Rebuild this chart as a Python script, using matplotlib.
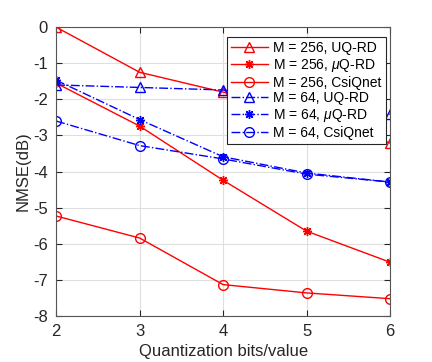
import matplotlib
matplotlib.use("Agg")
import matplotlib.pyplot as plt

bits = [2, 3, 4, 5, 6]
m256_uq = [0.0, -1.25, -1.8, -2.3, -3.21]
m256_mu = [-1.55, -2.74, -4.24, -5.65, -6.51]
m256_csi = [-5.23, -5.84, -7.13, -7.36, -7.52]
m64_uq = [-1.6, -1.67, -1.74, -2.0, -2.41]
m64_mu = [-1.47, -2.56, -3.59, -4.04, -4.29]
m64_csi = [-2.6, -3.28, -3.65, -4.07, -4.29]

labels = ["M = 256, UQ-RD", r"M = 256, $\mu$Q-RD", "M = 256, CsiQnet",
          "M = 64, UQ-RD", r"M = 64, $\mu$Q-RD", "M = 64, CsiQnet"]

plt.rcParams['font.family'] = ['Liberation Sans', 'DejaVu Sans']
plt.rcParams['mathtext.fontset'] = 'custom'
plt.rcParams['mathtext.it'] = 'Liberation Sans:italic'
plt.rcParams['mathtext.rm'] = 'Liberation Sans'
plt.rcParams['axes.unicode_minus'] = False

fig = plt.figure(figsize=(4.32, 3.62), dpi=100)
ax = fig.add_axes([0.13, 0.127, 0.773, 0.798])

dark = '#262626'
red = '#ff0000'
blue = '#0000ff'
ms = 7
star = (8, 2, 0)
ax.plot(bits, m256_uq, '-', color=red, marker='^', mfc='none', ms=ms, lw=1, label=labels[0])
ax.plot(bits, m256_mu, '-', color=red, marker=star, ms=6.5, mew=1.0, lw=1, label=labels[1])
ax.plot(bits, m256_csi, '-', color=red, marker='o', mfc='none', ms=ms, lw=1, label=labels[2])
ax.plot(bits, m64_uq, '-.', color=blue, marker='^', mfc='none', ms=ms, lw=1, label=labels[3])
ax.plot(bits, m64_mu, '-.', color=blue, marker=star, ms=6.5, mew=1.0, lw=1, label=labels[4])
ax.plot(bits, m64_csi, '-.', color=blue, marker='o', mfc='none', ms=ms, lw=1, label=labels[5])

ax.set_xlim(2, 6)
ax.set_ylim(-8, 0)
ax.set_xticks([2, 3, 4, 5, 6])
ax.set_yticks(range(-8, 1))
ax.grid(True, color='#dfdfdf', lw=0.8)
ax.set_axisbelow(True)
ax.tick_params(direction='in', colors=dark, labelsize=12, length=4, top=True, right=True,
               labelcolor=dark, pad=6)
for s in ax.spines.values():
    s.set_color('#555555')
    s.set_linewidth(0.8)
ax.set_xlabel('Quantization bits/value', fontsize=12, color=dark, labelpad=3)
ax.set_ylabel('NMSE(dB)', fontsize=12, color=dark, labelpad=2)

leg = ax.legend(loc='upper right', bbox_to_anchor=(0.995, 0.975), fontsize=10,
                frameon=True, fancybox=False, edgecolor=dark, framealpha=1,
                handlelength=2.6, borderpad=0.3, labelspacing=0.12, handletextpad=0.4,
                borderaxespad=0.2)
leg.get_frame().set_linewidth(0.8)

fig.savefig('out.png', dpi=100)
